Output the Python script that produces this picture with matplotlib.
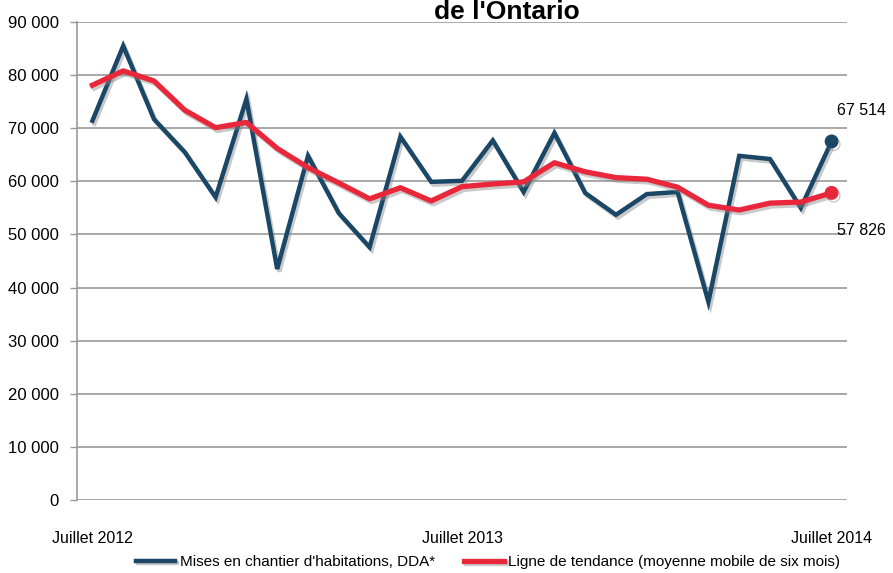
import matplotlib
matplotlib.use("Agg")
import matplotlib.pyplot as plt
import matplotlib.patheffects as pe
from matplotlib.ticker import FuncFormatter
from matplotlib import font_manager

names = {f.name for f in font_manager.fontManager.ttflist}
narrow = 'Liberation Sans Narrow' if 'Liberation Sans Narrow' in names else 'Liberation Sans'
plt.rcParams['font.family'] = [narrow, 'DejaVu Sans']

months = ["Juillet 2012"] + [""] * 11 + ["Juillet 2013"] + [""] * 11 + ["Juillet 2014"]
starts = [71400, 85500, 71700, 65500, 57000, 75500, 43500, 64800, 54000, 47600,
          68400, 59900, 60100, 67700, 58000, 69100, 57800, 53700, 57600, 58000,
          37300, 64800, 64200, 55000, 67514]
trend = [78100, 80800, 78900, 73400, 70100, 71100, 66200, 62600, 59700, 56700,
         58800, 56300, 59000, 59500, 59900, 63500, 61800, 60700, 60400, 58900,
         55500, 54600, 55900, 56100, 57826]
yticks = [0, 10000, 20000, 30000, 40000, 50000, 60000, 70000, 80000, 90000]

blue = '#1B4767'
red = '#E8273B'

fig = plt.figure(figsize=(8.93, 5.73), dpi=100)
ax = fig.add_axes([77/893, 1 - 500/573, (847-77)/893, (500-22)/573])

x = list(range(len(months)))
shadow = [pe.SimpleLineShadow(offset=(1.5, -2), shadow_color='#888888', alpha=0.45), pe.Normal()]
l1, = ax.plot(x, starts, color=blue, lw=3.2, solid_joinstyle='miter', path_effects=shadow,
              label="Mises en chantier d'habitations, DDA*", zorder=3)
l2, = ax.plot(x, trend, color=red, lw=3.8, path_effects=shadow,
              label="Ligne de tendance (moyenne mobile de six mois)", zorder=4)
ax.plot(x[-1], starts[-1], 'o', color=blue, ms=9, zorder=5, path_effects=shadow)
ax.plot(x[-1], trend[-1], 'o', color=red, ms=9, zorder=5, path_effects=shadow)

ax.annotate(f"{starts[-1]:,}".replace(",", " "), (x[-1], starts[-1]), xytext=(4, 22),
            textcoords='offset points', fontsize=11.5, ha='left', va='center')
ax.annotate(f"{trend[-1]:,}".replace(",", " "), (x[-1], trend[-1]), xytext=(4, -27),
            textcoords='offset points', fontsize=11.5, ha='left', va='center')

ax.set_xlim(-0.5, len(months) - 0.5)
ax.set_ylim(0, 90000)
ax.set_yticks(yticks)
ax.yaxis.set_major_formatter(FuncFormatter(lambda v, p: f"{int(v):,}".replace(",", " ")))
ax.set_xticks(x)
ax.set_xticklabels(months)
ax.tick_params(axis='x', length=0, pad=22, labelsize=11.5)
ax.tick_params(axis='y', length=5, width=1, color='#999999', pad=8, labelsize=12)
ax.grid(axis='y', color='#999999', lw=1.2)
ax.set_axisbelow(True)
for s in ['top', 'right', 'bottom']:
    ax.spines[s].set_visible(False)
ax.spines['left'].set_color('#999999')
ax.spines['left'].set_linewidth(1.2)

fig.text(507/893, 1 - 12/573, "de l'Ontario", fontsize=19, fontweight='bold',
         ha='center', va='center')

fig.legend(handles=[l1, l2], loc='center', bbox_to_anchor=(488/893, 1 - 562/573), ncol=2,
           frameon=False, fontsize=11, handlelength=2.6, columnspacing=1.9,
           handletextpad=0.3, borderaxespad=0)

fig.savefig('out.png', dpi=100)
